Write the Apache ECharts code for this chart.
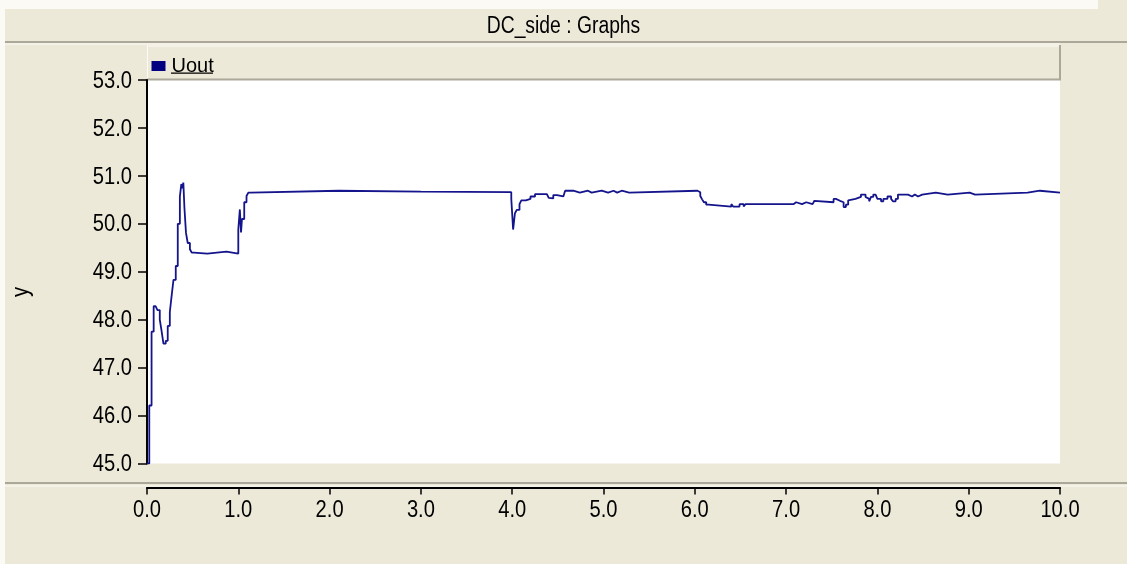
<!DOCTYPE html>
<html>
<head>
<meta charset="utf-8">
<title>DC_side : Graphs</title>
<script src="https://cdn.jsdelivr.net/npm/echarts@6/dist/echarts.min.js"></script>
<style>
  html, body { margin: 0; padding: 0; background: #ECE9D8; }
  #chart { width: 1127px; height: 564px; }
</style>
</head>
<body>
<div id="chart"></div>
<script>
// Sample times (s) at which the recorded output voltage changes
const timeS = [
  0.000, 0.025, 0.050, 0.073, 0.095, 0.115, 0.140, 0.160, 0.180, 0.205,
  0.227, 0.250, 0.270, 0.290, 0.315, 0.337, 0.360, 0.376, 0.388, 0.398,
  0.410, 0.427, 0.446, 0.470, 0.490, 0.515, 0.660, 0.870, 1.000, 1.017,
  1.030, 1.040, 1.065, 1.090, 1.110, 1.135, 2.100, 3.000, 3.990, 4.010,
  4.030, 4.050, 4.080, 4.100, 4.150, 4.200, 4.250, 4.310, 4.330, 4.380,
  4.400, 4.420, 4.450, 4.490, 4.560, 4.580, 4.670, 4.740, 4.830, 4.870,
  4.980, 5.050, 5.110, 5.150, 5.200, 5.280, 6.030, 6.060, 6.080, 6.100,
  6.125, 6.150, 6.400, 6.420, 6.490, 6.535, 6.555, 6.790, 6.810, 7.080,
  7.110, 7.175, 7.220, 7.290, 7.310, 7.330, 7.520, 7.545, 7.590, 7.610,
  7.630, 7.655, 7.680, 7.700, 7.760, 7.820, 7.870, 7.890, 7.910, 7.930,
  7.955, 7.980, 8.000, 8.040, 8.065, 8.110, 8.150, 8.170, 8.200, 8.225,
  8.335, 8.380, 8.410, 8.445, 8.490, 8.640, 8.770, 9.010, 9.070, 9.645,
  9.780, 10.000
];

// Uout (V) held from each sample time until the next one
const uout = [
  45.00, 46.21, 47.75, 48.28, 48.24, 48.20, 48.00, 47.76, 47.50, 47.56,
  47.87, 48.16, 48.50, 48.83, 49.12, 50.00, 50.57, 50.83, 50.74, 50.86,
  50.33, 49.81, 49.60, 49.47, 49.40, 49.38, 49.42, 49.38, 49.88, 50.30,
  49.82, 50.10, 50.45, 50.58, 50.65, 50.69, 50.67, 50.66, 50.52, 49.88,
  50.22, 50.29, 50.41, 50.49, 50.52, 50.57, 50.62, 50.58, 50.62, 50.58,
  50.54, 50.53, 50.60, 50.57, 50.60, 50.69, 50.65, 50.69, 50.65, 50.69,
  50.65, 50.69, 50.65, 50.69, 50.65, 50.69, 50.66, 50.58, 50.51, 50.45,
  50.40, 50.36, 50.41, 50.36, 50.41, 50.36, 50.41, 50.45, 50.41, 50.45,
  50.41, 50.45, 50.41, 50.45, 50.48, 50.45, 50.52, 50.48, 50.52, 50.45,
  50.35, 50.40, 50.49, 50.52, 50.56, 50.61, 50.56, 50.52, 50.47, 50.56,
  50.61, 50.57, 50.52, 50.47, 50.52, 50.57, 50.52, 50.47, 50.52, 50.61,
  50.57, 50.61, 50.57, 50.61, 50.65, 50.61, 50.65, 50.61, 50.65, 50.69,
  50.65, 50.65
];

const xTickValues = [0, 1, 2, 3, 4, 5, 6, 7, 8, 9, 10];
const xTickLabels = ['0.0', '1.0', '2.0', '3.0', '4.0', '5.0', '6.0', '7.0', '8.0', '9.0', '10.0'];
const yTickValues = [45, 46, 47, 48, 49, 50, 51, 52, 53];
const yTickLabels = ['45.0', '46.0', '47.0', '48.0', '49.0', '50.0', '51.0', '52.0', '53.0'];

const FONT = '"Liberation Sans", Arial, sans-serif';
const NARROW = 0.84;           // horizontal squeeze for the condensed label face
const BEIGE = '#ECE9D8';
const SHADOW = '#ACA899';
const LIGHT = '#FBFAF5';

// Sample-and-hold trace: each value holds until the next sample time
const points = [];
timeS.forEach((t, i) => {
  if (i > 0) points.push([t, uout[i - 1]]);
  points.push([t, uout[i]]);
});

const chart = echarts.init(document.getElementById('chart'), null, { renderer: 'canvas' });

const frame = [
  // window edge highlights
  { id: 'edgeTop', type: 'rect', shape: { x: 0, y: 0, width: 1098, height: 9 }, style: { fill: LIGHT }, silent: true },
  { id: 'edgeLeft', type: 'rect', shape: { x: 0, y: 0, width: 5, height: 564 }, style: { fill: LIGHT }, silent: true },
  // title bar
  {
    id: 'title', type: 'text', x: 563.5, y: 27, scaleX: NARROW, silent: true,
    style: { text: 'DC_side : Graphs', font: '23px ' + FONT, fill: '#000', align: 'center', verticalAlign: 'middle' }
  },
  { id: 'titleShadow', type: 'rect', shape: { x: 5, y: 41, width: 1122, height: 2 }, style: { fill: SHADOW }, silent: true },
  { id: 'titleLight', type: 'rect', shape: { x: 5, y: 43.5, width: 1055, height: 1 }, style: { fill: LIGHT }, silent: true },
  // legend strip above the plot
  { id: 'legBg', type: 'rect', shape: { x: 147, y: 45, width: 913, height: 35 }, style: { fill: BEIGE }, silent: true },
  { id: 'legTop', type: 'rect', shape: { x: 147, y: 45.5, width: 912, height: 1 }, style: { fill: LIGHT }, silent: true },
  { id: 'legLeft', type: 'rect', shape: { x: 147, y: 45.5, width: 1, height: 34 }, style: { fill: LIGHT }, silent: true },
  { id: 'legBottom', type: 'rect', shape: { x: 147, y: 78.5, width: 914, height: 2 }, style: { fill: SHADOW }, silent: true },
  { id: 'legRight', type: 'rect', shape: { x: 1059, y: 45, width: 2, height: 35 }, style: { fill: SHADOW }, silent: true },
  // legend label underline
  { id: 'legUnderline', type: 'rect', shape: { x: 171, y: 72.5, width: 42, height: 1.2 }, style: { fill: '#000' }, silent: true },
  // vertical axis title
  {
    id: 'yTitle', type: 'text', x: 21, y: 292, rotation: Math.PI / 2, scaleX: NARROW, silent: true,
    style: { text: 'y', font: '24px ' + FONT, fill: '#000', align: 'center', verticalAlign: 'middle' }
  },
  // separator between plot and time axis
  { id: 'sepShadow', type: 'rect', shape: { x: 5, y: 482, width: 1122, height: 2 }, style: { fill: SHADOW }, silent: true },
  { id: 'sepLight', type: 'rect', shape: { x: 5, y: 485.5, width: 1122, height: 1 }, style: { fill: LIGHT }, silent: true }
];

chart.setOption({
  backgroundColor: BEIGE,
  animation: false,
  graphic: { elements: frame },
  legend: {
    left: 151.5, top: 56,
    icon: 'rect', itemWidth: 14, itemHeight: 10, padding: 0,
    selectedMode: false,
    textStyle: { fontFamily: FONT, fontSize: 20, color: '#000', padding: [2, 0, 0, 1] },
    data: [{ name: 'Uout', itemStyle: { color: '#000080' } }]
  },
  grid: {
    left: 147, right: 67, top: 80, bottom: 100.5,
    show: true, backgroundColor: '#FFFFFF', borderWidth: 0,
    containLabel: false,
    outerBoundsMode: 'none'
  },
  xAxis: {
    type: 'value', min: 0, max: 10, interval: 1,
    offset: 24,
    axisLine: { show: true, onZero: false, lineStyle: { color: '#000', width: 2 } },
    axisTick: { show: true, length: 7, lineStyle: { color: '#000', width: 1.5 } },
    splitLine: { show: false },
    axisLabel: { show: false }
  },
  yAxis: {
    type: 'value', min: 45, max: 53, interval: 1,
    axisLine: { show: true, onZero: false, lineStyle: { color: '#000', width: 2 } },
    axisTick: { show: true, length: 9, lineStyle: { color: '#000', width: 1.5 } },
    splitLine: { show: false },
    axisLabel: { show: false }
  },
  series: [{
    name: 'Uout',
    type: 'line',
    data: points,
    symbol: 'none',
    clip: true,
    lineStyle: { color: '#14148C', width: 1.8 },
    itemStyle: { color: '#000080' }
  }]
});

// Tick labels in a condensed face, placed through the axis scales
const labelEls = [];
xTickValues.forEach((v, i) => {
  const px = chart.convertToPixel({ xAxisIndex: 0 }, v);
  labelEls.push({
    id: 'xl' + i, type: 'text', x: px, y: 510, scaleX: NARROW, silent: true,
    style: { text: xTickLabels[i], font: '24px ' + FONT, fill: '#000', align: 'center', verticalAlign: 'middle' }
  });
});
yTickValues.forEach((v, i) => {
  const py = chart.convertToPixel({ yAxisIndex: 0 }, v);
  labelEls.push({
    id: 'yl' + i, type: 'text', x: 132, y: py + 1, scaleX: NARROW, silent: true,
    style: { text: yTickLabels[i], font: '24px ' + FONT, fill: '#000', align: 'right', verticalAlign: 'middle' }
  });
});
chart.setOption({ graphic: { elements: frame.concat(labelEls) } });
</script>
</body>
</html>
